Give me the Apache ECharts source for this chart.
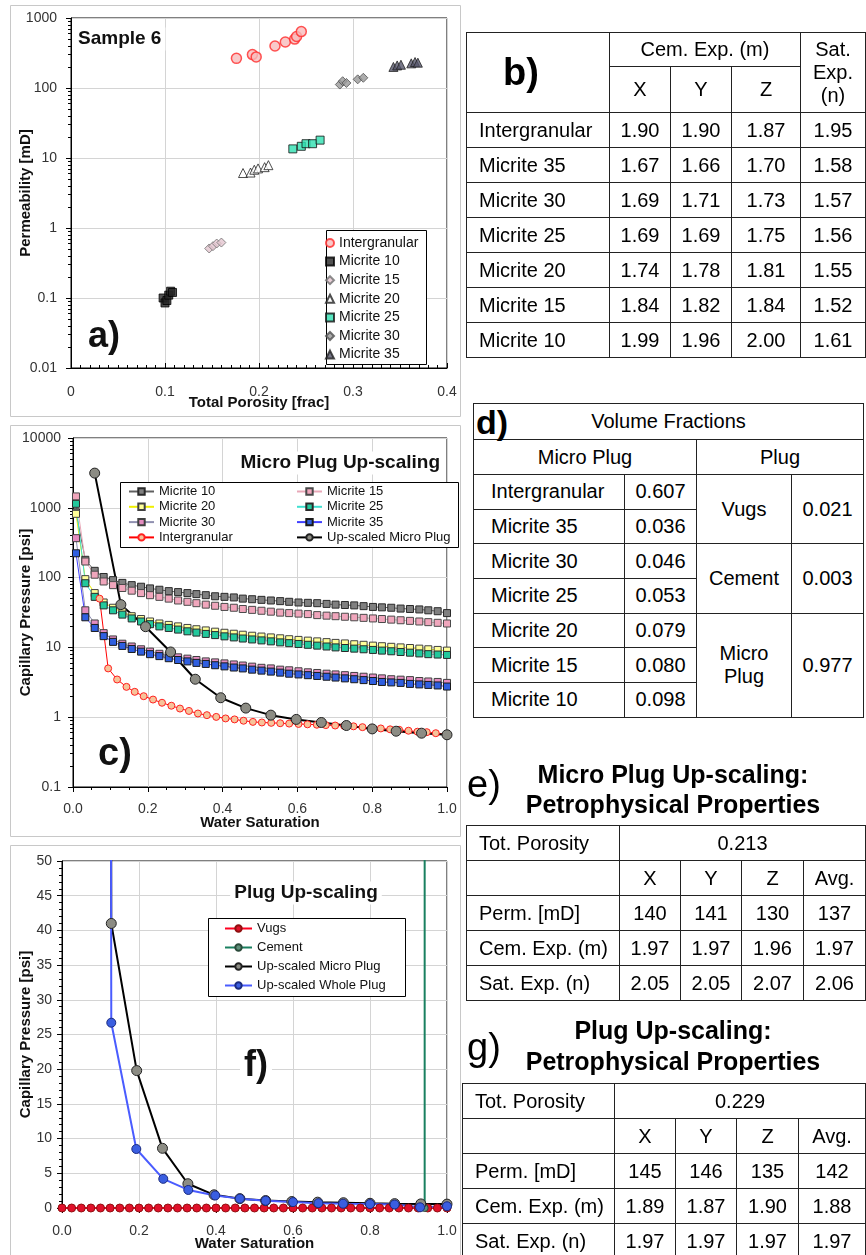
<!DOCTYPE html>
<html>
<head>
<meta charset="utf-8">
<script src="https://cdn.jsdelivr.net/npm/echarts@6/dist/echarts.min.js"></script>
<style>
body { margin:0; background:#fff; width:866px; height:1255px; position:relative; overflow:hidden; font-family:'Liberation Sans', Arial, sans-serif; color:#000; }
.chart { position:absolute; left:0; width:470px; }
table { position:absolute; border-collapse:collapse; table-layout:fixed; font-size:20px; }
td { border:1.5px solid #222; text-align:center; padding:0; white-space:nowrap; }
td.l { text-align:left; padding-left:12px; }
.ttl { position:absolute; font-weight:bold; font-size:25px; line-height:25px; white-space:nowrap; text-align:center; width:400px; left:473px; }
.lab { position:absolute; font-size:38px; line-height:38px; left:467px; }
</style>
</head>
<body>
<div id="chartA" class="chart" style="top:0;height:420px"></div>
<div id="chartC" class="chart" style="top:420px;height:420px"></div>
<div id="chartF" class="chart" style="top:840px;height:415px"></div>

<table id="tabB" style="left:466px;top:32px;width:399px"></table>
<table id="tabD" style="left:473px;top:403px;width:390px"></table>
<div class="lab" style="top:765px">e)</div>
<div class="ttl" style="top:762px">Micro Plug Up-scaling:</div>
<div class="ttl" style="top:792px">Petrophysical Properties</div>
<table id="tabE" style="left:466px;top:825px;width:399px"></table>
<div class="lab" style="top:1028px">g)</div>
<div class="ttl" style="top:1018px">Plug Up-scaling:</div>
<div class="ttl" style="top:1049px">Petrophysical Properties</div>
<table id="tabG" style="left:462px;top:1083px;width:403px"></table>

<script>
const FONT = "'Liberation Sans', Arial, sans-serif";

// ---- a) permeability vs porosity ----
const porIntergranular = [0.176, 0.193, 0.197, 0.217, 0.228, 0.238, 0.240, 0.245];
const permIntergranular = [265, 300, 278, 398, 454, 500, 545, 640];
const porMicrite10 = [0.098, 0.100, 0.102, 0.104, 0.106, 0.108];
const permMicrite10 = [0.100, 0.085, 0.092, 0.110, 0.125, 0.120];
const porMicrite15 = [0.147, 0.151, 0.155, 0.160];
const permMicrite15 = [0.51, 0.55, 0.60, 0.62];
const porMicrite20 = [0.183, 0.191, 0.195, 0.199, 0.206, 0.210];
const permMicrite20 = [6.1, 6.2, 6.8, 7.1, 7.4, 7.9];
const porMicrite25 = [0.236, 0.245, 0.250, 0.257, 0.265];
const permMicrite25 = [13.5, 14.7, 16.0, 16.0, 18.0];
const porMicrite30 = [0.286, 0.289, 0.293, 0.305, 0.311];
const permMicrite30 = [112, 125, 118, 133, 140];
const porMicrite35 = [0.343, 0.347, 0.351, 0.362, 0.366, 0.369];
const permMicrite35 = [200, 210, 215, 225, 235, 230];

// ---- c) capillary pressure curves ----
const swMicrite = [0.008, 0.033, 0.058, 0.082, 0.107, 0.132, 0.157, 0.182, 0.206, 0.231, 0.256, 0.281, 0.306, 0.330, 0.355, 0.380, 0.405, 0.430, 0.454, 0.479, 0.504, 0.529, 0.554, 0.578, 0.603, 0.628, 0.653, 0.678, 0.702, 0.727, 0.752, 0.777, 0.802, 0.826, 0.851, 0.876, 0.901, 0.926, 0.950, 0.975, 1.000];
const pcMicrite10 = [860, 180, 125, 102, 92, 84, 78, 74, 70, 67, 64, 62, 60, 58, 56, 54, 53, 52, 50, 49, 48, 47, 46, 45, 44, 43.5, 43, 42, 41, 40.5, 40, 39, 38, 37.5, 37, 36, 35.5, 35, 34, 33, 31];
const pcMicrite15 = [1455, 170, 110, 88, 78, 71, 65, 60, 56, 53, 50, 47, 45, 43, 41, 39.5, 38, 37, 35.5, 34.5, 33.5, 32.5, 31.5, 31, 30.5, 30, 29, 28.5, 28, 27.5, 27, 26.5, 26, 25.5, 25, 24.5, 24, 23.5, 23, 22.5, 22];
const pcMicrite20 = [820, 95, 60, 44, 37, 32, 28, 25.5, 23.5, 22, 21, 20, 19, 18.2, 17.5, 16.8, 16.2, 15.7, 15.2, 14.7, 14.3, 13.9, 13.5, 13.1, 12.8, 12.5, 12.2, 11.9, 11.6, 11.4, 11.1, 10.9, 10.6, 10.4, 10.2, 10.0, 9.8, 9.6, 9.4, 9.2, 9.0];
const pcMicrite25 = [1141, 83, 53, 40, 34, 29.5, 26, 23.5, 21.5, 20, 19, 18, 17, 16.3, 15.6, 15, 14.4, 13.9, 13.4, 13, 12.6, 12.2, 11.8, 11.5, 11.2, 10.9, 10.6, 10.3, 10.0, 9.8, 9.6, 9.4, 9.2, 9.0, 8.8, 8.6, 8.4, 8.2, 8.0, 7.9, 7.8];
const pcMicrite30 = [367, 34, 22, 16, 13, 11.3, 10.3, 9.4, 8.7, 8.1, 7.6, 7.2, 6.9, 6.6, 6.3, 6.1, 5.9, 5.7, 5.5, 5.3, 5.1, 5.0, 4.8, 4.7, 4.55, 4.4, 4.3, 4.2, 4.1, 4.0, 3.9, 3.8, 3.7, 3.6, 3.5, 3.45, 3.4, 3.3, 3.25, 3.2, 3.1];
const pcMicrite35 = [223, 27, 19, 14.5, 12, 10.5, 9.5, 8.7, 8.0, 7.5, 7.0, 6.6, 6.3, 6.0, 5.8, 5.55, 5.35, 5.15, 5.0, 4.8, 4.65, 4.5, 4.35, 4.2, 4.1, 4.0, 3.9, 3.8, 3.7, 3.6, 3.5, 3.4, 3.3, 3.2, 3.15, 3.1, 3.0, 2.95, 2.9, 2.85, 2.75];
const swIntergranular = [0.071, 0.094, 0.118, 0.143, 0.165, 0.189, 0.214, 0.238, 0.263, 0.286, 0.310, 0.334, 0.358, 0.383, 0.408, 0.432, 0.456, 0.481, 0.505, 0.530, 0.554, 0.578, 0.603, 0.627, 0.652, 0.676, 0.701, 0.725, 0.750, 0.774, 0.799, 0.823, 0.848, 0.872, 0.897, 0.921, 0.946, 0.970, 1.000];
const pcIntergranular = [50, 5.0, 3.47, 2.72, 2.31, 2.0, 1.79, 1.61, 1.46, 1.33, 1.23, 1.13, 1.07, 1.01, 0.96, 0.93, 0.89, 0.857, 0.84, 0.83, 0.82, 0.81, 0.80, 0.79, 0.78, 0.77, 0.76, 0.75, 0.74, 0.72, 0.70, 0.69, 0.67, 0.66, 0.64, 0.62, 0.61, 0.59, 0.57];
const swMicroPlug = [0.058, 0.128, 0.194, 0.261, 0.327, 0.395, 0.462, 0.529, 0.597, 0.664, 0.731, 0.800, 0.864, 0.932, 1.000];
const pcMicroPlug = [3140, 41, 19.8, 8.6, 3.5, 1.9, 1.35, 1.07, 0.93, 0.84, 0.76, 0.68, 0.63, 0.59, 0.56];

// ---- f) plug up-scaling ----
const swVugs = [0, 0.025, 0.05, 0.075, 0.1, 0.125, 0.15, 0.175, 0.2, 0.225, 0.25, 0.275, 0.3, 0.325, 0.35, 0.375, 0.4, 0.425, 0.45, 0.475, 0.5, 0.525, 0.55, 0.575, 0.6, 0.625, 0.65, 0.675, 0.7, 0.725, 0.75, 0.775, 0.8, 0.825, 0.85, 0.875, 0.9, 0.925, 0.95, 0.975, 1.0];
const pcVugs = [0, 0, 0, 0, 0, 0, 0, 0, 0, 0, 0, 0, 0, 0, 0, 0, 0, 0, 0, 0, 0, 0, 0, 0, 0, 0, 0, 0, 0, 0, 0, 0, 0, 0, 0, 0, 0, 0, 0, 0, 0];
const swCement = [0.942, 0.942];
const pcCement = [0, 1000];
const swWholePlug = [0.055, 0.128, 0.193, 0.263, 0.328, 0.398, 0.462, 0.529, 0.600, 0.666, 0.730, 0.800, 0.864, 0.930, 1.000];
const pcWholePlug = [3000, 26.7, 8.5, 4.2, 2.6, 1.8, 1.35, 1.05, 0.85, 0.70, 0.62, 0.57, 0.50, 0.10, 0.25];

// ---- tables ----
const tbNames = ['Intergranular', 'Micrite 35', 'Micrite 30', 'Micrite 25', 'Micrite 20', 'Micrite 15', 'Micrite 10'];
const tbCemX = ['1.90', '1.67', '1.69', '1.69', '1.74', '1.84', '1.99'];
const tbCemY = ['1.90', '1.66', '1.71', '1.69', '1.78', '1.82', '1.96'];
const tbCemZ = ['1.87', '1.70', '1.73', '1.75', '1.81', '1.84', '2.00'];
const tbSat = ['1.95', '1.58', '1.57', '1.56', '1.55', '1.52', '1.61'];
const tdFrac = ['0.607', '0.036', '0.046', '0.053', '0.079', '0.080', '0.098'];
const tdPlugNames = ['Vugs', 'Cement', 'Micro<br>Plug'];
const tdPlugFrac = ['0.021', '0.003', '0.977'];
const tdPlugSpan = [2, 2, 3];
const propRows = ['Perm. [mD]', 'Cem. Exp. (m)', 'Sat. Exp. (n)'];
const tePorosity = '0.213';
const teVals = [['140', '141', '130', '137'], ['1.97', '1.97', '1.96', '1.97'], ['2.05', '2.05', '2.07', '2.06']];
const tgPorosity = '0.229';
const tgVals = [['145', '146', '135', '142'], ['1.89', '1.87', '1.90', '1.88'], ['1.97', '1.97', '1.97', '1.97']];

const logTicksA = [0.01, 0.1, 1, 10, 100, 1000];
const logTicksC = [0.1, 1, 10, 100, 1000, 10000];

function zip(xs, ys) {
	return xs.map((x, i) => [x, ys[i]]);
}
// minor ticks 2..9 inside every decade
function minorLog(majors) {
	let out = [];
	for (let i = 0; i < majors.length - 1; i++) {
		for (let k = 2; k <= 9; k++) out.push(+(majors[i] * k).toPrecision(3));
	}
	return out;
}
function fmt(v) {
	return String(+(+v).toPrecision(6));
}
function frame(h) {
	return { type: 'rect', silent: true, shape: { x: 10.5, y: 5.5, width: 450, height: h }, style: { fill: null, stroke: '#c8c8c8', lineWidth: 1 } };
}
function label(text, x, y, size, align) {
	return {
		type: 'text', z: 5, x: x, y: y,
		style: { text: text, font: 'bold ' + size + 'px ' + FONT, fill: '#111', align: align || 'left', verticalAlign: 'middle', backgroundColor: '#fff', padding: [2, 4] }
	};
}
function box(x, y, w, h) {
	return { type: 'rect', z: 3, shape: { x: x + 0.5, y: y + 0.5, width: w, height: h }, style: { fill: '#fff', stroke: '#000', lineWidth: 1 } };
}
const tickLabel = { fontSize: 14, color: '#333', fontFamily: FONT };
const axisName = { fontSize: 15, fontWeight: 'bold', color: '#111', fontFamily: FONT };
const blackLine = { lineStyle: { color: '#000', width: 1 } };
const gridLine = { lineStyle: { color: '#d4d4d4', width: 1 } };

// ================= a) =================
const chartA = echarts.init(document.getElementById('chartA'));
chartA.setOption({
	animation: false,
	textStyle: { fontFamily: FONT },
	grid: { left: 71, top: 18, width: 376, height: 350, show: true, borderColor: '#000', borderWidth: 1, outerBoundsMode: 'none' },
	xAxis: {
		type: 'value', min: 0, max: 0.4, interval: 0.1,
		name: 'Total Porosity [frac]', nameLocation: 'middle', nameGap: 27, nameMoveOverlap: false, nameTextStyle: axisName,
		axisLine: blackLine,
		axisTick: { inside: true, length: 5, lineStyle: { color: '#000' } },
		minorTick: { show: true, splitNumber: 10, length: 3, lineStyle: { color: '#000' } },
		axisLabel: Object.assign({ margin: 17, formatter: fmt }, tickLabel),
		splitLine: gridLine
	},
	yAxis: [{
		type: 'log', logBase: 10, min: 0.01, max: 1000,
		name: 'Permeability [mD]', nameLocation: 'middle', nameGap: 38, nameMoveOverlap: false, nameTextStyle: axisName,
		axisLine: blackLine,
		axisTick: { length: 5, lineStyle: { color: '#000' } },
		axisLabel: Object.assign({ margin: 14, formatter: fmt }, tickLabel),
		splitLine: gridLine
	}, {
		type: 'log', logBase: 10, min: 0.01, max: 1000, position: 'left',
		axisLine: { show: false }, axisLabel: { show: false }, splitLine: { show: false },
		axisTick: { show: true, length: 3, customValues: minorLog(logTicksA), lineStyle: { color: '#000' } }
	}],
	legend: {
		orient: 'vertical', left: 325, top: 236, padding: 0, itemGap: 4.6,
		itemWidth: 8, itemHeight: 8, selectedMode: false,
		textStyle: { fontSize: 14, color: '#111', fontFamily: FONT },
		data: ['Intergranular', 'Micrite 10', 'Micrite 15', 'Micrite 20', 'Micrite 25', 'Micrite 30', 'Micrite 35']
	},
	graphic: [
		frame(411),
		box(326, 230, 100, 134),
		label('Sample 6', 74, 39, 19),
		label('a)', 84, 337, 36)
	],
	series: [
		{ name: 'Intergranular', type: 'scatter', symbol: 'circle', symbolSize: 10, itemStyle: { color: '#f7bcbc', borderColor: '#ff2a2a', borderWidth: 1.5 }, data: zip(porIntergranular, permIntergranular) },
		{ name: 'Micrite 10', type: 'scatter', symbol: 'rect', symbolSize: 8, itemStyle: { color: '#262626', borderColor: '#000', borderWidth: 1 }, data: zip(porMicrite10, permMicrite10) },
		{ name: 'Micrite 15', type: 'scatter', symbol: 'diamond', symbolSize: 9, itemStyle: { color: '#e4c6d0', borderColor: '#707070', borderWidth: 1 }, data: zip(porMicrite15, permMicrite15) },
		{ name: 'Micrite 20', type: 'scatter', symbol: 'triangle', symbolSize: 9, itemStyle: { color: '#fff', borderColor: '#222', borderWidth: 1 }, data: zip(porMicrite20, permMicrite20) },
		{ name: 'Micrite 25', type: 'scatter', symbol: 'rect', symbolSize: 8, itemStyle: { color: '#2ee0b0', borderColor: '#111', borderWidth: 1 }, data: zip(porMicrite25, permMicrite25) },
		{ name: 'Micrite 30', type: 'scatter', symbol: 'diamond', symbolSize: 9, itemStyle: { color: '#999', borderColor: '#505050', borderWidth: 1 }, data: zip(porMicrite30, permMicrite30) },
		{ name: 'Micrite 35', type: 'scatter', symbol: 'triangle', symbolSize: 9, itemStyle: { color: '#55556a', borderColor: '#222', borderWidth: 1 }, data: zip(porMicrite35, permMicrite35) }
	]
});

// ================= c) =================
function pcLine(name, xs, ys, symbol, size, fill, border, line, width) {
	return {
		name: name, type: 'line', symbol: symbol, symbolSize: size, showAllSymbol: true,
		lineStyle: { color: line, width: width || 1 },
		itemStyle: { color: fill, borderColor: border, borderWidth: 1 },
		data: zip(xs, ys)
	};
}
const chartC = echarts.init(document.getElementById('chartC'));
chartC.setOption({
	animation: false,
	textStyle: { fontFamily: FONT },
	grid: { left: 73, top: 18, width: 374, height: 349, show: true, borderColor: '#000', borderWidth: 1, outerBoundsMode: 'none' },
	xAxis: {
		type: 'value', min: 0, max: 1, interval: 0.2,
		name: 'Water Saturation', nameLocation: 'middle', nameGap: 28, nameMoveOverlap: false, nameTextStyle: axisName,
		axisLine: blackLine,
		axisTick: { length: 5, lineStyle: { color: '#000' } },
		minorTick: { show: true, splitNumber: 4, length: 3, lineStyle: { color: '#000' } },
		axisLabel: Object.assign({ margin: 15, formatter: v => (+v).toFixed(1) }, tickLabel),
		splitLine: gridLine
	},
	yAxis: [{
		type: 'log', logBase: 10, min: 0.1, max: 10000,
		name: 'Capillary Pressure [psi]', nameLocation: 'middle', nameGap: 40, nameMoveOverlap: false, nameTextStyle: axisName,
		axisLine: blackLine,
		axisTick: { length: 5, lineStyle: { color: '#000' } },
		axisLabel: Object.assign({ margin: 12, formatter: fmt }, tickLabel),
		splitLine: gridLine
	}, {
		type: 'log', logBase: 10, min: 0.1, max: 10000, position: 'left',
		axisLine: { show: false }, axisLabel: { show: false }, splitLine: { show: false },
		axisTick: { show: true, length: 3, customValues: minorLog(logTicksC), lineStyle: { color: '#000' } }
	}],
	legend: [{
		orient: 'vertical', left: 128, top: 65, padding: 0, itemGap: 2.3,
		itemWidth: 25, itemHeight: 8, selectedMode: false,
		textStyle: { fontSize: 13, color: '#111', fontFamily: FONT },
		data: ['Micrite 10', 'Micrite 20', 'Micrite 30', 'Intergranular']
	}, {
		orient: 'vertical', left: 296, top: 65, padding: 0, itemGap: 2.3,
		itemWidth: 25, itemHeight: 8, selectedMode: false,
		textStyle: { fontSize: 13, color: '#111', fontFamily: FONT },
		data: ['Micrite 15', 'Micrite 25', 'Micrite 35', 'Up-scaled Micro Plug']
	}],
	graphic: [
		frame(411),
		box(120, 62, 338, 65),
		label('Micro Plug Up-scaling', 444, 43, 19, 'right'),
		label('c)', 94, 335, 38)
	],
	series: [
		pcLine('Micrite 10', swMicrite, pcMicrite10, 'rect', 7, '#808080', '#2a2a2a', '#606060'),
		pcLine('Micrite 15', swMicrite, pcMicrite15, 'rect', 7, '#f0a6bc', '#4a4a4a', '#e8a8b8'),
		pcLine('Micrite 20', swMicrite, pcMicrite20, 'rect', 7, '#ffff99', '#404040', '#f0f000'),
		pcLine('Micrite 25', swMicrite, pcMicrite25, 'rect', 7, '#22c89c', '#2a2a2a', '#40e0d0'),
		pcLine('Micrite 30', swMicrite, pcMicrite30, 'rect', 7, '#e48cc0', '#404040', '#9090b0'),
		pcLine('Micrite 35', swMicrite, pcMicrite35, 'rect', 7, '#2f5fe0', '#1a1a1a', '#4040ff'),
		pcLine('Intergranular', swIntergranular, pcIntergranular, 'circle', 7, '#f6c39a', '#ff2020', '#ff0000'),
		pcLine('Up-scaled Micro Plug', swMicroPlug, pcMicroPlug, 'circle', 10, '#8c8c84', '#222', '#000', 2)
	]
});

// ================= f) =================
const chartF = echarts.init(document.getElementById('chartF'));
chartF.setOption({
	animation: false,
	textStyle: { fontFamily: FONT },
	grid: { left: 62, top: 21, width: 385, height: 347, show: true, borderColor: '#000', borderWidth: 1, outerBoundsMode: 'none' },
	xAxis: {
		type: 'value', min: 0, max: 1, interval: 0.2,
		name: 'Water Saturation', nameLocation: 'middle', nameGap: 28, nameMoveOverlap: false, nameTextStyle: axisName,
		axisLine: blackLine,
		axisTick: { length: 5, lineStyle: { color: '#000' } },
		minorTick: { show: true, splitNumber: 4, length: 3, lineStyle: { color: '#000' } },
		axisLabel: Object.assign({ margin: 16, formatter: v => (+v).toFixed(1) }, tickLabel),
		splitLine: gridLine
	},
	yAxis: {
		type: 'value', min: 0, max: 50, interval: 5,
		name: 'Capillary Pressure [psi]', nameLocation: 'middle', nameGap: 29, nameMoveOverlap: false, nameTextStyle: axisName,
		axisLine: blackLine,
		axisTick: { length: 5, lineStyle: { color: '#000' } },
		minorTick: { show: true, splitNumber: 5, length: 3, lineStyle: { color: '#000' } },
		axisLabel: Object.assign({ margin: 10 }, tickLabel),
		splitLine: gridLine
	},
	legend: {
		orient: 'vertical', left: 224, top: 82, padding: 0, itemGap: 6,
		itemWidth: 27, itemHeight: 8, selectedMode: false,
		textStyle: { fontSize: 13, color: '#111', fontFamily: FONT },
		data: ['Vugs', 'Cement', 'Up-scaled Micro Plug', 'Up-scaled Whole Plug']
	},
	graphic: [
		frame(430),
		box(208, 78, 197, 78),
		label('Plug Up-scaling', 306, 53, 19, 'center'),
		label('f)', 240, 226, 36)
	],
	series: [
		pcLine('Vugs', swVugs, pcVugs, 'circle', 8, '#e0102a', '#901010', '#ff0020', 2),
		pcLine('Cement', swCement, pcCement, 'circle', 7, '#5f8f7a', '#2a4a3a', '#1a8060', 2),
		pcLine('Up-scaled Micro Plug', swMicroPlug, pcMicroPlug, 'circle', 10, '#8c8c84', '#222', '#000', 2),
		pcLine('Up-scaled Whole Plug', swWholePlug, pcWholePlug, 'circle', 9, '#3a5ee0', '#1a2a80', '#4a5cff', 2)
	]
});

// ================= tables =================
function cells(arr) {
	return arr.map(v => '<td>' + v + '</td>').join('');
}
let hb = '<colgroup><col style="width:143px"><col style="width:61px"><col style="width:61px"><col style="width:69px"><col style="width:65px"></colgroup>';
hb += '<tr style="height:34px"><td rowspan="2" style="font-weight:bold;font-size:38px;text-align:left;padding-left:36px">b)</td><td colspan="3">Cem. Exp. (m)</td><td rowspan="2" style="line-height:23px">Sat.<br>Exp.<br>(n)</td></tr>';
hb += '<tr style="height:46px"><td>X</td><td>Y</td><td>Z</td></tr>';
tbNames.forEach((n, i) => {
	hb += '<tr style="height:35px"><td class="l">' + n + '</td>' + cells([tbCemX[i], tbCemY[i], tbCemZ[i], tbSat[i]]) + '</tr>';
});
document.getElementById('tabB').innerHTML = hb;

let hd = '<colgroup><col style="width:151px"><col style="width:72px"><col style="width:95px"><col style="width:72px"></colgroup>';
hd += '<tr style="height:36px"><td colspan="4" style="position:relative">Volume Fractions<span style="position:absolute;left:2px;top:1px;font-weight:bold;font-size:34px;line-height:34px">d)</span></td></tr>';
hd += '<tr style="height:35px"><td colspan="2">Micro Plug</td><td colspan="2">Plug</td></tr>';
let pi = 0, left = 0;
tbNames.forEach((n, i) => {
	hd += '<tr style="height:34.7px"><td class="l" style="padding-left:17px">' + n + '</td><td>' + tdFrac[i] + '</td>';
	if (left === 0) {
		hd += '<td rowspan="' + tdPlugSpan[pi] + '">' + tdPlugNames[pi] + '</td><td rowspan="' + tdPlugSpan[pi] + '">' + tdPlugFrac[pi] + '</td>';
		left = tdPlugSpan[pi];
		pi++;
	}
	left--;
	hd += '</tr>';
});
document.getElementById('tabD').innerHTML = hd;

function propTable(id, cols, poro, vals) {
	let h = '<colgroup>' + cols.map(w => '<col style="width:' + w + 'px">').join('') + '</colgroup>';
	h += '<tr style="height:35px"><td class="l">Tot. Porosity</td><td colspan="4">' + poro + '</td></tr>';
	h += '<tr style="height:35px"><td></td>' + cells(['X', 'Y', 'Z', 'Avg.']) + '</tr>';
	propRows.forEach((r, i) => {
		h += '<tr style="height:35px"><td class="l">' + r + '</td>' + cells(vals[i]) + '</tr>';
	});
	document.getElementById(id).innerHTML = h;
}
propTable('tabE', [153, 61, 61, 62, 62], tePorosity, teVals);
propTable('tabG', [152, 61, 61, 62, 67], tgPorosity, tgVals);
</script>
</body>
</html>
